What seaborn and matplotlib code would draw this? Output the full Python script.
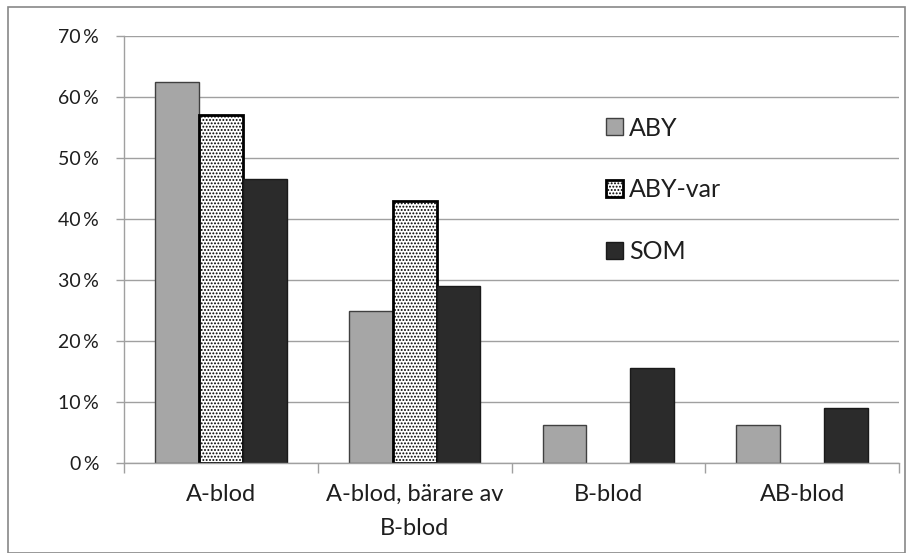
import matplotlib
matplotlib.use("Agg")
import matplotlib.pyplot as plt
import matplotlib.patches as mpatches
import seaborn as sns
import pandas as pd
import numpy as np

categories = ["A-blod", "A-blod, bärare av\nB-blod", "B-blod", "AB-blod"]
series = ["ABY", "ABY-var", "SOM"]
aby = [62.5, 25.0, 6.25, 6.25]
aby_var = [57.1, 42.9, 0.0, 0.0]
som = [46.6, 29.0, 15.6, 9.0]
yticks = [0, 10, 20, 30, 40, 50, 60, 70]
ytick_labels = [f"{v}\u2009%" for v in yticks]

rows = []
for s, vals in zip(series, [aby, aby_var, som]):
    for c, v in zip(categories, vals):
        rows.append({"cat": c, "series": s, "val": v})
df = pd.DataFrame(rows)

sns.set_theme(style="white")
plt.rcParams["font.family"] = ["Lato", "DejaVu Sans"]
plt.rcParams["hatch.color"] = "#6a6a6a"
plt.rcParams["hatch.linewidth"] = 0.9

fig = plt.figure(figsize=(9.07, 5.53), dpi=100)
ax = fig.add_axes([124/907, 1-463/553, (899-124)/907, (463-36)/553])

palette = {"ABY": "#A6A6A6", "ABY-var": "#FFFFFF", "SOM": "#2B2B2B"}
sns.barplot(data=df, x="cat", y="val", hue="series", order=categories,
            hue_order=series, palette=palette, width=0.68, ax=ax,
            saturation=1, legend=False, errorbar=None)

edge = {"ABY": ("#404040", 1.0), "ABY-var": ("#000000", 2.0), "SOM": ("#1A1A1A", 1.0)}
for cont, s in zip(ax.containers, series):
    for p in cont.patches:
        p.set_edgecolor(edge[s][0])
        p.set_linewidth(edge[s][1])
        if s == "ABY-var":
            p.set_hatch(".....")
        if p.get_height() == 0:
            p.set_visible(False)

txt = "#1E1E1E"
ax.set_ylim(0, 70)
ax.set_xlim(-0.5, 3.5)
ax.set_yticks(yticks)
ax.set_yticklabels(ytick_labels, fontsize=14, color=txt)
ax.yaxis.grid(True, color="#A0A0A0", linewidth=1.0)
ax.set_axisbelow(True)
ax.set_xlabel("")
ax.set_ylabel("")
ax.set_xticks(range(len(categories)))
ax.set_xticklabels(categories, fontsize=17, color=txt, linespacing=1.75)
ax.set_xticks([-0.5, 0.5, 1.5, 2.5, 3.5], minor=True)
ax.tick_params(axis="x", which="major", length=0, pad=15)
ax.tick_params(axis="x", which="minor", length=7, color="#A0A0A0", width=1, direction="out", bottom=True)
ax.tick_params(axis="y", which="major", length=6, color="#A0A0A0", width=1, direction="out", left=True, pad=12)
for side in ["top", "right"]:
    ax.spines[side].set_visible(False)
for side in ["left", "bottom"]:
    ax.spines[side].set_color("#A0A0A0")
    ax.spines[side].set_linewidth(1.0)

handles = [mpatches.Patch(facecolor=palette[s], edgecolor=edge[s][0],
                          linewidth=edge[s][1], hatch="....." if s == "ABY-var" else None)
           for s in series]
leg = ax.legend(handles, series, loc="upper left", bbox_to_anchor=(0.596, 0.858),
                frameon=False, fontsize=18, labelspacing=1.55,
                handlelength=0.68, handleheight=0.68, handletextpad=0.25,
                borderpad=0.3)
for t in leg.get_texts():
    t.set_color(txt)

border = mpatches.Rectangle((8/907, 0.0), (905-8)/907, 1-7/553, transform=fig.transFigure,
                            fill=False, edgecolor="#888888", linewidth=1.2)
fig.patches.append(border)

fig.savefig("out.png", dpi=100)
